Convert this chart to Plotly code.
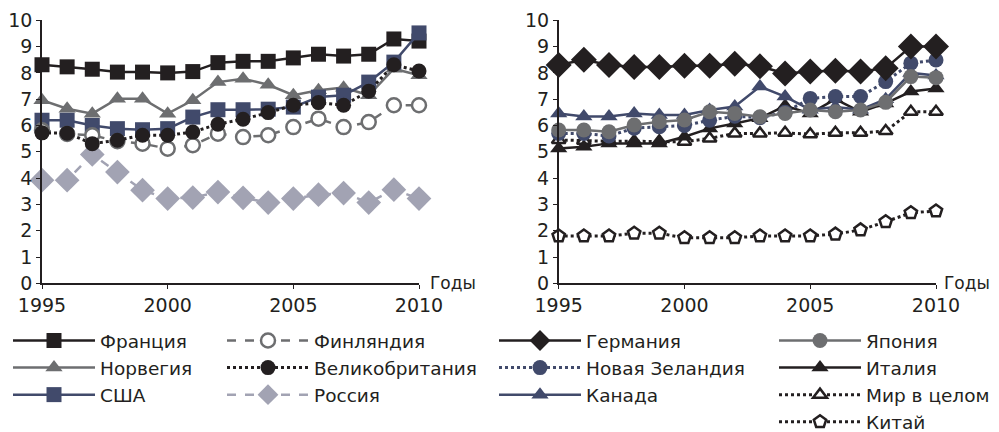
import plotly.graph_objects as go

years = list(range(1995, 2011))

# Left panel
france = [8.31, 8.23, 8.14, 8.03, 8.03, 8.0, 8.05, 8.39, 8.44, 8.44, 8.57, 8.71, 8.64, 8.71, 9.29, 9.21]
norway = [6.96, 6.64, 6.45, 7.02, 7.02, 6.45, 6.96, 7.65, 7.78, 7.55, 7.15, 7.34, 7.44, 7.15, 8.16, 7.91]
usa = [6.2, 6.2, 6.0, 5.88, 5.84, 5.88, 6.32, 6.6, 6.6, 6.62, 6.7, 7.08, 7.15, 7.65, 8.41, 9.52]
finland = [5.82, 5.68, 5.63, 5.4, 5.31, 5.12, 5.25, 5.69, 5.56, 5.63, 5.94, 6.26, 5.94, 6.13, 6.77, 6.77]
uk = [5.72, 5.71, 5.31, 5.44, 5.63, 5.63, 5.75, 6.05, 6.24, 6.49, 6.77, 6.87, 6.77, 7.3, 8.31, 8.07]
russia = [3.92, 3.92, 4.9, 4.23, 3.54, 3.22, 3.26, 3.47, 3.25, 3.07, 3.22, 3.37, 3.43, 3.07, 3.56, 3.22]

# Right panel
germany = [8.3, 8.5, 8.3, 8.22, 8.22, 8.27, 8.27, 8.35, 8.25, 7.98, 8.05, 8.08, 8.05, 8.18, 9.0, 9.0]
japan = [5.83, 5.83, 5.76, 6.02, 6.14, 6.21, 6.52, 6.46, 6.33, 6.46, 6.59, 6.52, 6.59, 6.88, 7.86, 7.82]
new_zealand = [5.7, 5.7, 5.6, 5.9, 5.95, 6.0, 6.2, 6.35, 6.3, 6.5, 7.03, 7.1, 7.1, 7.67, 8.37, 8.49]
italy = [5.13, 5.19, 5.32, 5.32, 5.32, 5.57, 5.89, 6.08, 6.28, 6.75, 6.46, 7.0, 6.52, 6.84, 7.29, 7.41]
canada = [6.46, 6.34, 6.34, 6.46, 6.4, 6.4, 6.59, 6.72, 7.48, 7.1, 6.6, 6.7, 6.6, 7.0, 8.0, 7.9]
world = [5.45, 5.42, 5.4, 5.4, 5.4, 5.38, 5.51, 5.7, 5.7, 5.72, 5.67, 5.72, 5.72, 5.79, 6.52, 6.52]
china = [1.8, 1.8, 1.8, 1.9, 1.9, 1.73, 1.73, 1.73, 1.8, 1.8, 1.8, 1.87, 2.03, 2.34, 2.68, 2.75]

x_ticks = [1995, 2000, 2005, 2010]
y_ticks = list(range(0, 11))
axis_title = "Годы"

BLACK = "#231f20"
GRAY = "#6d6e70"
BLUE = "#414a6b"
LIGHT = "#a2a3b3"

FONT = "DejaVu Sans, Liberation Sans, Arial, sans-serif"

fig = go.Figure()

def add(name, y, color, dash, symbol, msize, fill, axis, legend, lw=2.5):
    fig.add_trace(go.Scatter(
        x=years, y=y, name=name, mode="lines+markers",
        line=dict(color=color, width=lw, dash=dash),
        marker=dict(symbol=symbol, size=msize, color=fill,
                    line=dict(color=color, width=2.5 if fill == "white" else 0)),
        cliponaxis=False,
        xaxis="x" if axis == 1 else "x2", yaxis="y" if axis == 1 else "y2",
        legend=legend,
    ))

# left panel (draw order)
add("Россия", russia, LIGHT, "dash", "diamond", 19, LIGHT, 1, "legend2")
add("Норвегия", norway, GRAY, "solid", "triangle-up", 15, GRAY, 1, "legend")
add("Франция", france, BLACK, "solid", "square", 15, BLACK, 1, "legend")
add("США", usa, BLUE, "solid", "square", 15, BLUE, 1, "legend")
add("Финляндия", finland, GRAY, "dash", "circle", 14, "white", 1, "legend2")
add("Великобритания", uk, BLACK, "dot", "circle", 15, BLACK, 1, "legend2", lw=3)

# right panel
add("Китай", china, BLACK, "dot", "pentagon", 13, "white", 2, "legend4", lw=3)
add("Мир в целом", world, BLACK, "dot", "triangle-up", 12, "white", 2, "legend4", lw=3)
add("Италия", italy, BLACK, "solid", "triangle-up", 15, BLACK, 2, "legend4")
add("Новая Зеландия", new_zealand, BLUE, "dot", "circle", 15, BLUE, 2, "legend3", lw=3)
add("Канада", canada, BLUE, "solid", "triangle-up", 15, BLUE, 2, "legend3")
add("Япония", japan, GRAY, "solid", "circle", 15, GRAY, 2, "legend4")
add("Германия", germany, BLACK, "solid", "diamond", 20, BLACK, 2, "legend3")

ranks = {"Франция": 1, "Норвегия": 2, "США": 3,
         "Финляндия": 1, "Великобритания": 2, "Россия": 3,
         "Германия": 1, "Новая Зеландия": 2, "Канада": 3,
         "Япония": 1, "Италия": 2, "Мир в целом": 3, "Китай": 4}
for tr in fig.data:
    tr.legendrank = ranks[tr.name]

# The page body has an 8px default margin: size the figure so it ends at the window edge
OFF = 8
W, H = 999 - OFF, 432 - OFF
def px(x):
    return (x - OFF) / W
def py(y):
    return (H - (y - OFF)) / H

y_bot = py(283.3)
y_top = py(20.3)

xaxis_common = dict(range=[1995, 2010], tickvals=x_ticks, showline=True, linecolor=BLACK, linewidth=1.5,
                    ticks="outside", ticklen=4, tickcolor=BLACK, showgrid=False, zeroline=False,
                    automargin=False, tickfont=dict(size=19, color=BLACK, family=FONT))
yaxis_common = dict(range=[0, 10], tickvals=y_ticks, showline=True, linecolor=BLACK, linewidth=1.5,
                    ticks="outside", ticklen=4, tickcolor=BLACK, showgrid=False, zeroline=False,
                    automargin=False, tickfont=dict(size=19, color=BLACK, family=FONT),
                    domain=[y_bot, y_top])

legend_common = dict(orientation="v", yanchor="top", y=py(322), xanchor="left",
                     font=dict(size=18.5, color=BLACK, family=FONT), bgcolor="rgba(0,0,0,0)",
                     itemwidth=82, tracegroupgap=0, traceorder="normal")

fig.update_layout(
    width=W, height=H, margin=dict(l=0, r=0, t=0, b=0, autoexpand=False),
    plot_bgcolor="white", paper_bgcolor="white",
    font=dict(family=FONT, color=BLACK),
    xaxis=dict(domain=[px(42), px(419)], anchor="y", **xaxis_common),
    yaxis=dict(anchor="x", **yaxis_common),
    xaxis2=dict(domain=[px(558.7), px(936)], anchor="y2", **xaxis_common),
    yaxis2=dict(anchor="x2", **yaxis_common),
    legend=dict(x=px(8), **legend_common),
    legend2=dict(x=px(222), **legend_common),
    legend3=dict(x=px(494), **legend_common),
    legend4=dict(x=px(774), **legend_common),
    annotations=[
        dict(text=axis_title, x=px(428), y=y_bot, xref="paper", yref="paper", xanchor="left",
             yanchor="middle", showarrow=False, font=dict(size=17, color=BLACK, family=FONT)),
        dict(text=axis_title, x=px(942), y=y_bot, xref="paper", yref="paper", xanchor="left",
             yanchor="middle", showarrow=False, font=dict(size=17, color=BLACK, family=FONT)),
    ],
)

fig.write_html("out.html")
